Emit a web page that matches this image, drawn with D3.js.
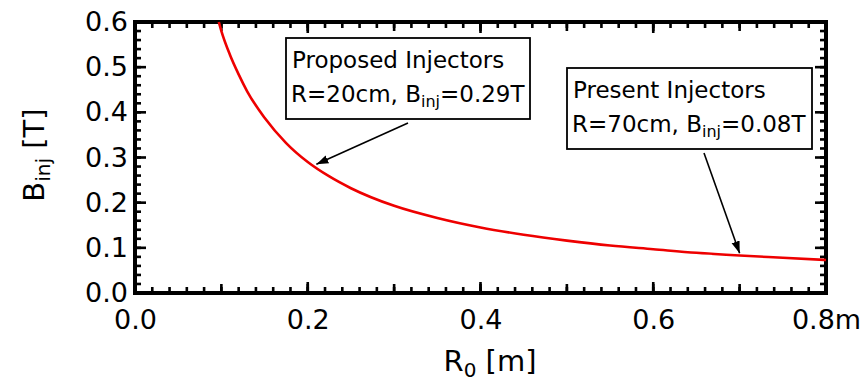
<!DOCTYPE html>
<html><head><meta charset="utf-8">
<script src="https://cdn.jsdelivr.net/npm/d3@7"></script>
<style>body{margin:0;background:#fff}svg{display:block}text{font-family:"DejaVu Sans",sans-serif;fill:#000}</style>
</head><body><svg width="860" height="383"></svg>
<script>
// ---- data ----
const radius = [0.097,0.1,0.11,0.12,0.13,0.15,0.175,0.2,0.225,0.25,0.3,0.35,0.4,0.45,0.5,0.55,0.6,0.65,0.7,0.75,0.8];
const field  = [0.600,0.580,0.527,0.484,0.446,0.388,0.332,0.290,0.258,0.232,0.193,0.166,0.145,0.129,0.116,0.105,0.097,0.089,0.083,0.078,0.073];
const xTicks = [0,0.2,0.4,0.6,0.8];
const xTickLabels = ["0.0","0.2","0.4","0.6","0.8m"];
const yTicks = [0,0.1,0.2,0.3,0.4,0.5,0.6];
const yTickLabels = ["0.0","0.1","0.2","0.3","0.4","0.5","0.6"];
const noteTitles = ["Proposed Injectors","Present Injectors"];
const noteR = ["20cm","70cm"];
const noteB = ["0.29T","0.08T"];
const noteTipR = [0.21,0.70];
const noteTipB = [0.285,0.088];

// ---- layout ----
const L=135, R=826, T=22, B=293;
const svg=d3.select("svg");
const x=d3.scaleLinear().domain([0,0.8]).range([L,R]);
const y=d3.scaleLinear().domain([0,0.6]).range([B,T]);
const fs=27;

function steps(step,max){const a=[];for(let i=0;i<=Math.round(max/step);i++)a.push(+(i*step).toFixed(4));return a;}
const xMinor=steps(0.02,0.8), xMid=steps(0.1,0.8);
const yMinor=steps(0.02,0.6);

// frame as filled bars
const fw=4;
const fr=svg.append("g").attr("fill","#000");
fr.append("rect").attr("x",L-fw/2).attr("y",T-fw/2).attr("width",R-L+fw).attr("height",fw);
fr.append("rect").attr("x",L-fw/2).attr("y",B-fw/2).attr("width",R-L+fw).attr("height",fw);
fr.append("rect").attr("x",L-fw/2).attr("y",T-fw/2).attr("width",fw).attr("height",B-T+fw);
fr.append("rect").attr("x",R-fw/2).attr("y",T-fw/2).attr("width",fw).attr("height",B-T+fw);

// ticks as filled rects
const tw=2.6;
function xt(vals,len){
  fr.selectAll(null).data(vals).enter().append("rect").attr("x",d=>x(d)-tw/2).attr("y",B-len).attr("width",tw).attr("height",len);
  fr.selectAll(null).data(vals).enter().append("rect").attr("x",d=>x(d)-tw/2).attr("y",T).attr("width",tw).attr("height",len);
}
function yt(vals,len){
  fr.selectAll(null).data(vals).enter().append("rect").attr("y",d=>y(d)-tw/2).attr("x",L).attr("height",tw).attr("width",len);
  fr.selectAll(null).data(vals).enter().append("rect").attr("y",d=>y(d)-tw/2).attr("x",R-len).attr("height",tw).attr("width",len);
}
xt(xMinor,6); xt(xMid,9); xt(xTicks,11);
yt(yMinor,6); yt(yTicks,11);

// tick labels via axes (no lines)
const xa=svg.append("g").attr("transform",`translate(0,${B})`).call(d3.axisBottom(x).tickValues(xTicks).tickSize(0).tickPadding(17).tickFormat((d,i)=>xTickLabels[i]));
xa.select(".domain").remove();
xa.selectAll("text").attr("font-size",fs).attr("font-family","'DejaVu Sans',sans-serif").attr("fill","#000");
const ya=svg.append("g").attr("transform",`translate(${L},0)`).call(d3.axisLeft(y).tickValues(yTicks).tickSize(0).tickPadding(7).tickFormat((d,i)=>yTickLabels[i]));
ya.select(".domain").remove();
ya.selectAll("text").attr("font-size",fs).attr("font-family","'DejaVu Sans',sans-serif").attr("fill","#000");

// curve
const pts=radius.map((r,i)=>[r,field[i]]);
svg.append("path").datum(pts).attr("fill","none").attr("stroke","#ee0000").attr("stroke-width",2.6)
  .attr("d",d3.line().x(d=>x(d[0])).y(d=>y(d[1])).curve(d3.curveMonotoneX));

// arrow marker
svg.append("defs").append("marker").attr("id","ah").attr("viewBox","0 0 10 10").attr("refX",10).attr("refY",5)
  .attr("markerWidth",12).attr("markerHeight",12).attr("markerUnits","userSpaceOnUse").attr("orient","auto")
  .append("path").attr("d","M0,1.5L10,5L0,8.5Z").attr("fill","#000");

const boxes=[{x:286,y:38,w:244,h:81,ax:408,ay:123},{x:567,y:68,w:245,h:81,ax:704,ay:153}];
boxes.forEach((b,i)=>{
  svg.append("rect").attr("x",b.x).attr("y",b.y).attr("width",b.w).attr("height",b.h).attr("fill","#fff").attr("stroke","#000").attr("stroke-width",1.8);
  svg.append("text").attr("x",b.x+6).attr("y",b.y+30).attr("font-size",23).text(noteTitles[i]);
  const t=svg.append("text").attr("x",b.x+5).attr("y",b.y+64).attr("font-size",23);
  t.append("tspan").text(`R=${noteR[i]}, B`);
  t.append("tspan").attr("font-size",16).attr("dy",5).text("inj");
  t.append("tspan").attr("dy",-5).text(`=${noteB[i]}`);
  svg.append("line").attr("x1",b.ax).attr("y1",b.ay).attr("x2",x(noteTipR[i])).attr("y2",y(noteTipB[i]))
    .attr("stroke","#000").attr("stroke-width",1.6).attr("marker-end","url(#ah)");
});

// axis titles
const xtt=svg.append("text").attr("x",490).attr("y",371).attr("text-anchor","middle").attr("font-size",29);
xtt.append("tspan").text("R");
xtt.append("tspan").attr("font-size",20).attr("dy",6).text("0");
xtt.append("tspan").attr("dy",-6).text(" [m]");
const ytt=svg.append("text").attr("transform","translate(44,155) rotate(-90)").attr("text-anchor","middle").attr("font-size",29);
ytt.append("tspan").text("B");
ytt.append("tspan").attr("font-size",20).attr("dy",6).text("inj");
ytt.append("tspan").attr("dy",-6).text(" [T]");
</script></body></html>
